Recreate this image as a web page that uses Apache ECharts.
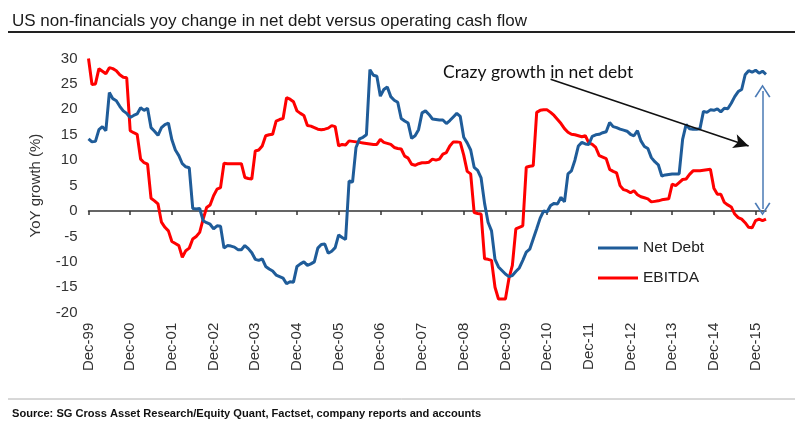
<!DOCTYPE html>
<html>
<head>
<meta charset="utf-8">
<title>US non-financials net debt vs EBITDA</title>
<script src="https://cdn.jsdelivr.net/npm/echarts@6/dist/echarts.min.js"></script>
<style>
  html, body { margin: 0; padding: 0; background: #fff; }
  #main { width: 800px; height: 421px; }
</style>
</head>
<body>
<div id="main"></div>
<script>
// monthly, Dec-99 .. Mar-16, one row per year starting at Dec
var netDebt = [
  14.2, 13.6, 13.7, 16, 16.6, 15.8, 23.3, 22.1, 21.7, 20.6, 19.7, 19.2,
  18.4, 18.8, 19.1, 20.3, 19.8, 20.2, 16.4, 15.7, 14.9, 16.4, 17, 17.3,
  14.0, 12.0, 10.9, 9.3, 8.7, 8.5, 0.5, 0.4, 0.5, -1.9, -2.3, -2.6,
  -3.5, -2.9, -3, -7.3, -6.8, -6.9, -7.1, -7.6, -7.6, -6.8, -7.4, -8.2,
  -9.5, -9.7, -9.4, -10.9, -11.4, -11.8, -12.6, -12.9, -13.2, -14.3, -13.9, -14,
  -10.9, -10.4, -10, -10.7, -10.4, -10, -7.3, -6.6, -6.5, -8.3, -7.9, -7.2,
  -4.7, -5.2, -5.6, 5.9, 5.7, 12.5, 14.2, 14.5, 15, 27.8, 26.7, 26.5,
  22.6, 23.9, 24.4, 22.5, 21.8, 21.4, 18.2, 17.7, 17.3, 14.3, 14.8, 16,
  19.3, 19.7, 19, 18.1, 18, 17.9, 17.9, 17.2, 17.8, 18.5, 19.2, 18.6,
  14.5, 13.4, 12, 8.6, 8, 6.5, 1.5, -2.2, -3.9, -9.5, -11, -11.7,
  -12.4, -12.9, -12.7, -11.9, -11.2, -9.7, -8.1, -7.5, -5.5, -3.5, -1.4, 0,
  -0.2, 1.1, 1.5, 1.4, 2.7, 1.8, 7.3, 7.9, 10, 12.8, 13.5, 13.2,
  13.1, 14.7, 15, 15.1, 15.4, 15.6, 17.4, 16.6, 16.4, 16.1, 15.9, 15.7,
  15.1, 14.8, 15.8, 13.8, 12.7, 12.3, 10.5, 9.7, 9.1, 6.9, 7.1, 7.2,
  7.3, 7.3, 7.3, 14.1, 17, 16.2, 16.1, 16.1, 16.2, 19.6, 19.4, 19.9,
  19.8, 20.1, 19.5, 20.2, 20.1, 21.2, 22.5, 23.5, 23.9, 26.8, 27.6, 27.3,
  27.7, 27.1, 27.5, 26.9
];

var ebitda = [
  30, 24.9, 25, 28, 27.5, 27, 28.2, 28, 27.6, 26.8, 26.3, 26.2,
  15.8, 15.4, 15.1, 10.2, 9.5, 9.2, 2.5, 2, 1.4, -2.2, -3.2, -3.9,
  -6, -6.4, -6.8, -9.1, -7.8, -7.3, -5.5, -5, -4.2, -1.6, 0.7, 1.2,
  3, 4.3, 4.6, 9.4, 9.3, 9.3, 9.3, 9.3, 9.3, 6.6, 6.4, 6.3,
  11.8, 12, 12.8, 14.8, 15, 15.1, 17.7, 18, 18.2, 22.3, 22, 21.5,
  19.7, 19.2, 18.8, 16.8, 16.7, 16.4, 16.1, 16, 16.1, 16.3, 16.8, 16.6,
  12.8, 13.1, 13, 13.8, 13.7, 13.6, 13.5, 13.4, 13.3, 13.2, 13.1, 13.1,
  14.1, 13.5, 13.3, 13.1, 12.5, 12.3, 12.2, 10.8, 10.4, 9.2, 9, 9.3,
  9.5, 9.5, 9.6, 10.2, 10, 10.2, 11.2, 11.5, 12.8, 13.6, 13.6, 13.5,
  11, 7.8, 7.3, -0.3, -0.5, -0.6, -9.4, -9.5, -9.7, -15, -17.3, -17.3,
  -17.3, -13.3, -10.7, -3.5, -3.2, -2.9, 8.6, 8.8, 8.9, 19.4, 19.8, 19.9,
  19.9, 19.4, 18.8, 18, 17.2, 16.2, 15.5, 15.1, 15, 14.8, 14.6, 14.8,
  13.4, 13.1, 12.5, 10.9, 10.6, 10.3, 8.2, 7.8, 7.5, 5, 4.2, 4,
  3.6, 4, 3.2, 2.8, 2.6, 2.4, 1.8, 1.9, 2, 2.2, 2.3, 2.4,
  5.3, 5, 5.6, 6.2, 6.3, 7.2, 7.9, 7.9, 7.9, 8, 8.1, 8.2,
  4.5, 3.3, 3.3, 1.7, 1.2, 0.8, -0.6, -1.3, -1.6, -2.3, -3.2, -3.3,
  -1.9, -1.6, -1.9, -1.6
];

var monthNames = ['Jan', 'Feb', 'Mar', 'Apr', 'May', 'Jun', 'Jul', 'Aug', 'Sep', 'Oct', 'Nov', 'Dec'];
var months = [];
for (var i = 0; i < netDebt.length; i++) {
    var k = 11 + i;
    var yy = (1999 + Math.floor(k / 12)) % 100;
    months.push(monthNames[k % 12] + '-' + (yy < 10 ? '0' + yy : '' + yy));
}

// annotation arrows, in [month index, value]
var crazyArrow = [[133, 25.9], [190, 12.8]];
var gapArrow = [[194, 23.6], [194, 0.4]];

var yTicks = { min: -20, max: 30, step: 5 };

var font = 'Liberation Sans, Arial, sans-serif';
var chevron = 'path://M0,12 L7.5,0 L15,12 L13.6,12.8 L7.5,2.6 L1.4,12.8 Z';

function isDec(index) { return index % 12 === 0; }

var option = {
    animation: false,
    backgroundColor: '#fff',
    title: [{
        text: 'US non-financials yoy change in net debt versus operating cash flow',
        left: 7, top: 8,
        textStyle: { fontFamily: font, fontSize: 17, fontWeight: 'normal', color: '#1a1a1a' }
    }, {
        text: 'Source: SG Cross Asset Research/Equity Quant, Factset, company reports and accounts',
        left: 7, top: 403,
        textStyle: { fontFamily: font, fontSize: 11.1, fontWeight: 'bold', color: '#111' }
    }, {
        text: 'Crazy growth in net debt',
        left: 438, top: 58,
        textStyle: { fontFamily: 'Lato, Open Sans, sans-serif', fontSize: 17.5, fontWeight: 'normal', color: '#111' }
    }],
    graphic: [{
        type: 'line', shape: { x1: 8, y1: 32, x2: 795, y2: 32 },
        style: { stroke: '#222', lineWidth: 2 }
    }, {
        type: 'line', shape: { x1: 8, y1: 399, x2: 795, y2: 399 },
        style: { stroke: '#b0b0b0', lineWidth: 1 }
    }],
    legend: {
        orient: 'vertical',
        left: 593, top: 235,
        icon: 'rect',
        itemWidth: 40, itemHeight: 3, itemGap: 14,
        textStyle: { fontFamily: font, fontSize: 15.5, color: '#222', lineHeight: 16 },
        data: ['Net Debt', 'EBITDA']
    },
    grid: { left: 88.5, right: 34, top: 58.5, bottom: 108.3, containLabel: false },
    xAxis: [{
        type: 'category',
        data: months,
        boundaryGap: false,
        position: 'bottom',
        axisLine: { show: false, onZero: false },
        axisTick: { show: false },
        axisLabel: {
            interval: function (index) { return isDec(index); },
            rotate: 90, margin: 10,
            fontFamily: font, fontSize: 15, color: '#333'
        },
        splitLine: { show: false }
    }, {
        type: 'category',
        data: months,
        boundaryGap: false,
        position: 'top',
        axisLine: { show: true, onZero: true, lineStyle: { color: '#333', width: 1.5 } },
        axisTick: { show: true, inside: true, length: 4, interval: function (index) { return isDec(index); },
                    lineStyle: { color: '#333', width: 1.5 } },
        axisLabel: { show: false },
        splitLine: { show: false }
    }],
    yAxis: {
        type: 'value',
        min: yTicks.min, max: yTicks.max, interval: yTicks.step,
        name: 'YoY growth (%)',
        nameLocation: 'middle',
        nameGap: 45,
        nameTextStyle: { fontFamily: font, fontSize: 15, color: '#333' },
        axisLine: { show: false },
        axisTick: { show: false },
        splitLine: { show: false },
        axisLabel: { margin: 11, fontFamily: font, fontSize: 15, color: '#333' }
    },
    series: [{
        name: 'Net Debt',
        type: 'line',
        data: netDebt,
        symbol: 'none',
        lineStyle: { color: '#1f5c99', width: 3 },
        itemStyle: { color: '#1f5c99' },
        z: 3,
        markLine: {
            silent: true,
            symbol: [chevron, chevron],
            symbolSize: [16, 13],
            label: { show: false },
            data: [
                [{ coord: crazyArrow[0], symbol: 'none', lineStyle: { color: '#111', width: 1.6, type: 'solid' } },
                 { coord: crazyArrow[1], symbol: 'arrow', symbolSize: [11, 15] }],
                [{ coord: gapArrow[0], lineStyle: { color: '#4a7ab5', width: 1.5, type: 'solid' } },
                 { coord: gapArrow[1] }]
            ]
        }
    }, {
        name: 'EBITDA',
        type: 'line',
        data: ebitda,
        symbol: 'none',
        lineStyle: { color: '#ff0000', width: 3 },
        itemStyle: { color: '#ff0000' },
        z: 2
    }]
};

var myChart = echarts.init(document.getElementById('main'));
myChart.setOption(option);
</script>
</body>
</html>
